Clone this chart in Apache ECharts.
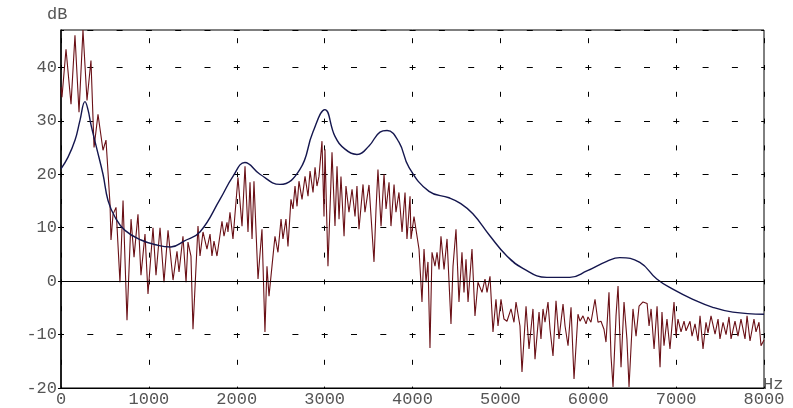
<!DOCTYPE html>
<html>
<head>
<meta charset="utf-8">
<script src="https://cdn.jsdelivr.net/npm/echarts@6/dist/echarts.min.js"></script>
<style>
  html, body { margin: 0; padding: 0; background: #fff; }
  #chart { width: 793px; height: 408px; }
</style>
</head>
<body>
<div id="chart"></div>
<script>
// FFT spectrum (Hz, dB), peaks and dips
var specHz = [
  0, 11, 57, 114, 159, 205, 250, 296, 341, 376, 421, 478, 512, 558, 569, 592, 626, 671, 706, 751,
  797, 831, 876, 910, 956, 990, 1047, 1081, 1127, 1172, 1218, 1275,
  1320, 1343, 1388, 1423, 1445, 1479, 1502, 1559, 1582, 1616, 1661, 1696, 1718, 1741, 1775, 1832,
  1855, 1889, 1900, 1923, 1957, 2014, 2060, 2094, 2128, 2151, 2174, 2196, 2242, 2287, 2321, 2344,
  2367, 2401, 2435, 2469, 2504, 2526, 2560, 2583, 2617, 2640,
  2663, 2686, 2708, 2743, 2777, 2811, 2834, 2868, 2891, 2913, 2936, 2970, 2993, 3004, 3038, 3084,
  3118, 3141, 3164, 3186, 3221, 3243, 3277, 3312, 3346, 3368, 3391, 3437, 3459, 3505, 3562, 3585,
  3607, 3642, 3676, 3699, 3733, 3755, 3790, 3812, 3846, 3881, 3915, 3937, 3972,
  3983, 4017, 4074, 4108, 4131, 4154, 4176, 4199, 4222, 4256, 4279, 4302, 4324, 4359, 4393, 4438,
  4461, 4495, 4529, 4563, 4586, 4609, 4632, 4677, 4711, 4745, 4791, 4825, 4848, 4882, 4916, 4950,
  4973, 5007, 5041, 5075, 5121, 5155, 5178, 5223, 5246, 5292,
  5326, 5371, 5394, 5440, 5462, 5485, 5508, 5542, 5565, 5599, 5633, 5667, 5713, 5736, 5770, 5804,
  5838, 5883, 5906, 5940, 5975, 5997, 6031, 6077, 6111, 6145, 6179, 6202, 6236, 6259, 6282, 6316,
  6339, 6373, 6407, 6440, 6464, 6509, 6544, 6578, 6623,
  6670, 6692, 6715, 6749, 6783, 6817, 6839, 6862, 6896, 6930, 6976, 6999, 7021, 7056, 7090, 7113,
  7158, 7181, 7215, 7249, 7272, 7306, 7340, 7363, 7397, 7443, 7477, 7499, 7534, 7568, 7602, 7625,
  7670, 7704, 7738, 7784, 7807, 7841, 7886, 7909, 7943, 7966, 8000
];
var specDb = [
  36.3, 34.4, 43.4, 33.1, 46, 31.6, 47, 33.8, 41.3, 25, 31.2, 24.5, 26.4, 14.4, 7.7, 12.5, 13.8, -0.2, 15.1, -7.3,
  11.6, 4.5, 12.5, 1.1, 8.8, -2.4, 10, 1.1, 10, -0.2, 9.5, 0.2,
  5.6, 1.7, 8.4, -0.2, 7.3, 4.7, -9.0, 10.3, 4.7, 9.2, 6.0, 8.8, 4.7, 7.5, 4.7, 11.2,
  8.4, 11.0, 9.2, 12.9, 7.9, 19.4, 10.3, 21.5, 9.2, 18.5, 7.9, 18.7, 0.4, 9.7, -9.5, 2.8,
  -2.8, 2.8, 8.4, 5.4, 11.6, 7.9, 11.6, 6.5, 15.3, 13.5,
  17.8, 14.0, 18.7, 15.3, 19.6, 15.9, 20.6, 16.6, 21.3, 17.8, 19.6, 26.2, 12.1, 24.7, 2.8, 24.1,
  10.3, 21.5, 11.6, 19.6, 8.4, 17.8, 12.9, 17.2, 12.1, 17.8, 9.7, 18.1, 12.9, 18.0, 3.6, 13.5,
  20.9, 10.3, 20.0, 13.5, 18.5, 10.3, 18.1, 12.9, 16.6, 9.2, 16.6, 7.9, 15.9,
  7.9, 12.1, 6.0, -3.9, 6.0, -0.2, 3.6, -12.5, 5.4, 2.8, 5.4, 2.2, 8.4, 2.2, 7.9, -8.0,
  2.8, 9.7, -3.9, 5.4, -2.1, 4.1, -3.9, 6.0, -6.5, -0.2, -2.1, 0.4, -2.1, 0.9, -9.5, -3.4,
  -8.4, -3.4, -7.1, -7.5, -5.2, -7.7, -3.9, -8.4, -17, -4.7,
  -12.7, -5.2, -14.6, -5.8, -10.8, -5.2, -7.7, -3.9, -9.0, -14, -3.7, -10.8, -4.3, -8.4, -12.1, -4.9,
  -18.3, -6.2, -7.5, -6.5, -8.0, -6.7, -7.7, -3.4, -7.7, -7.5, -9.0, -11.4, -2.1, -14, -19.8, -6.5,
  -0.9, -16.1, -3.9, -10.8, -19.8, -5.2, -10.3, -4.7, -3.9,
  -4.2, -8.4, -5.2, -12.7, -4.7, -16.1, -5.8, -12.1, -7.1, -12.7, -3.9, -10.3, -7.1, -9.5, -7.5, -9.3,
  -7.5, -10.3, -8.0, -11.2, -6.5, -12.7, -7.7, -9.7, -6.5, -9.9, -7.1, -10.8, -7.7, -10.0, -6.7, -10.8,
  -7.5, -10.3, -7.1, -10.8, -6.5, -11.2, -7.1, -9.5, -7.7, -12.1, -11
];

// LPC envelope (Hz, dB)
var envHz = [0, 80, 160, 216, 273, 307, 341, 398, 478, 535, 614, 728, 910, 1104, 1250, 1400, 1581,
  1809, 1957, 2093, 2264, 2492, 2719, 2867, 3003, 3118, 3232, 3368, 3505, 3630, 3710, 3846, 3960,
  4188, 4415, 4540, 4687, 4880, 5074, 5256, 5529, 5790, 5984, 6211, 6359, 6587, 6780, 6962, 7190,
  7417, 7645, 8000];
var envDb = [21, 23.2, 26.4, 30.1, 33.6, 32.1, 29.3, 25.4, 20, 15.1, 12, 9.5, 7.7, 6.7, 6.4, 7.5, 9.2,
  15.3, 19.6, 22.2, 20, 18.1, 20.9, 27.9, 32.1, 27.1, 24.7, 23.7, 25.3, 27.9, 28.2, 26, 21.3,
  16.8, 15.6, 14.6, 12.6, 8.5, 4.7, 2.4, 0.7, 0.7, 1.9, 3.7, 4.4, 3.5, 0.4, -1.5, -3.4,
  -4.9, -5.8, -6.2];

var xMin = 0, xMax = 8000, xStep = 1000;
var yMin = -20, yMax = 47, yStep = 10;

function pairs(xs, ys) {
    return xs.map(function (x, i) { return [x, ys[i]]; });
}

var chart = echarts.init(document.getElementById('chart'), null, {renderer: 'canvas'});

var labelFont = {
    color: '#555',
    fontFamily: 'Liberation Mono',
    fontSize: 17
};

var option = {
    animation: false,
    backgroundColor: '#fff',
    grid: {
        left: 61, right: 29, top: 30, bottom: 19,
        show: true,
        borderColor: '#000',
        borderWidth: 1
    },
    xAxis: {
        type: 'value',
        min: xMin, max: xMax, interval: xStep,
        axisLine: {onZero: false, lineStyle: {color: '#000', width: 1}},
        axisTick: {show: false},
        axisLabel: Object.assign({
            margin: 3,
            formatter: function (v) { return String(v); }
        }, labelFont),
        splitLine: {
            show: true,
            lineStyle: {color: '#000', width: 1, type: [5, 21.8], dashOffset: 18.6}
        }
    },
    yAxis: {
        type: 'value',
        min: yMin, max: yMax, interval: yStep,
        axisLine: {show: true, lineStyle: {color: '#000', width: 1.5}},
        axisTick: {show: true, length: 3, lineStyle: {color: '#000'}},
        axisLabel: Object.assign({margin: 4, showMaxLabel: false}, labelFont),
        splitLine: {
            show: true,
            lineStyle: {color: '#000', width: 1, type: [6, 23.3], dashOffset: 3}
        }
    },
    graphic: [
        {type: 'text', left: 47, top: 6, style: {text: 'dB', fill: '#555', font: '17px "Liberation Mono"'}},
        {type: 'text', left: 763, top: 376, style: {text: 'Hz', fill: '#555', font: '17px "Liberation Mono"'}}
    ],
    series: [
        {
            name: 'spectrum',
            type: 'line',
            data: pairs(specHz, specDb),
            symbol: 'none',
            lineStyle: {color: '#6a1016', width: 1.1},
            markLine: {
                silent: true,
                symbol: ['none', 'none'],
                label: {show: false},
                lineStyle: {color: '#000', type: 'solid', width: 1},
                data: [{yAxis: 0}]
            }
        },
        {
            name: 'envelope',
            type: 'line',
            data: pairs(envHz, envDb),
            symbol: 'none',
            smooth: 0.45,
            lineStyle: {color: '#14164e', width: 1.4}
        }
    ]
};

chart.setOption(option);
</script>
</body>
</html>
